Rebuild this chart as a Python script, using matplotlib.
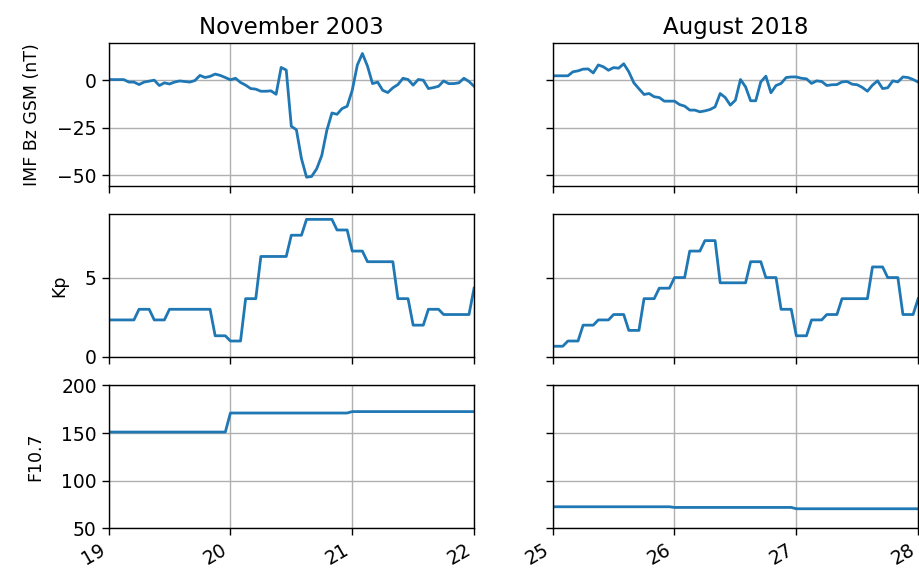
import numpy as np
import pandas as pd
import matplotlib
matplotlib.use("Agg")
import matplotlib.pyplot as plt
import matplotlib.dates as mdates

# Hourly IMF Bz GSM (nT), 73 samples each
bz_nov = [0.35, 0.3, 0.3, 0.3, -1, -1, -2.3, -1, -0.5, 0, -2.8, -1.4, -2, -1,
          -0.4, -0.7, -1, -0.2, 2.5, 1.4, 2, 3.2, 2.5, 1.4, 0.2, 1, -1.2, -2.6,
          -4.4, -4.7, -5.8, -5.8, -5.6, -7.4, 6.7, 5.3, -24.2, -26, -41.2,
          -50.9, -50.5, -46.5, -39.5, -26.3, -17.2, -17.9, -14.9, -13.7, -5.3,
          7.9, 14, 7.4, -1.8, -1, -5.3, -6.5, -4, -2.3, 1, 0.35, -2.6, 0.35, 0,
          -4.4, -3.9, -3.2, -0.4, -1.8, -1.8, -1.4, 1, -0.7, -3.2]
bz_aug = [2.3, 2.3, 2.3, 2.3, 4.4, 4.9, 5.8, 5.9, 3.8, 8, 7, 5.2, 6.6, 6.3, 8.6,
          4.4, -1.4, -4.5, -7.5, -7, -8.7, -9.1, -11, -11, -11, -12.8, -13.6,
          -15.7, -15.7, -16.6, -16.1, -15.4, -14, -7, -9.1, -13.1, -10.5, 0.35,
          -3.5, -10.8, -10.8, -0.9, 2.1, -6.6, -2.8, -1.7, 1.4, 1.7, 1.7, 1,
          0.7, -1.7, -0.35, -0.7, -2.8, -2.4, -2.3, -0.9, -0.7, -2.1, -2.4,
          -3.8, -5.8, -2.6, -0.35, -4.4, -4, -0.35, -0.9, 1.7, 1.4, 0.35, -1]

# 3-hourly Kp
kp_nov = [2.33, 2.33, 3.0, 2.33, 3.0, 3.0, 3.0, 1.33, 1.0, 3.67, 6.33, 6.33,
          7.67, 8.67, 8.67, 8.0, 6.67, 6.0, 6.0, 3.67, 2.0, 3.0, 2.67, 2.67, 4.33]
kp_aug = [0.67, 1.0, 2.0, 2.33, 2.67, 1.67, 3.67, 4.33, 5.0, 6.67, 7.33, 4.67,
          4.67, 6.0, 5.0, 3.0, 1.33, 2.33, 2.67, 3.67, 3.67, 5.67, 5.0, 2.67, 3.67]

# daily F10.7
f107_nov = [151, 171, 172.5, 172.5]
f107_aug = [72.5, 71.8, 70.4, 70.4]

events = [
    ("November 2003", "2003-11-19", bz_nov, kp_nov, f107_nov),
    ("August 2018", "2018-08-25", bz_aug, kp_aug, f107_aug),
]
ylabels = ["IMF Bz GSM (nT)", "Kp", "F10.7"]

fig, axes = plt.subplots(3, 2, figsize=(9.2, 5.71), dpi=100, sharey="row")
fig.subplots_adjust(left=0.118, right=0.998, top=0.925, bottom=0.075,
                    hspace=0.2, wspace=0.215)

for col, (title, start, bz, kp, f107) in enumerate(events):
    t = pd.date_range(start, periods=73, freq="h")
    series = [
        np.asarray(bz),
        np.repeat(kp, 3)[:73],
        np.repeat(f107, 24)[:73],
    ]
    for row in range(3):
        ax = axes[row, col]
        ax.plot(t, series[row], color="#1f77b4", lw=2)
        ax.set_xlim(t[0], t[-1])
        ax.xaxis.set_major_locator(mdates.DayLocator())
        ax.xaxis.set_major_formatter(mdates.DateFormatter("%d"))
        ax.grid(True, color="#b0b0b0", lw=1.0)
        ax.tick_params(labelsize=13.5, width=1.0, length=5)
        for s in ax.spines.values():
            s.set_linewidth(1.0)
        if row < 2:
            ax.tick_params(labelbottom=False)
        else:
            for lbl in ax.get_xticklabels():
                lbl.set_rotation(30)
                lbl.set_ha("right")
        if col == 0:
            ax.set_ylabel(ylabels[row], fontsize=12.5, labelpad=12)
    axes[0, col].set_title(title, fontsize=16.5)

axes[0, 0].set_ylim(-55.3, 19.6)
axes[0, 0].set_yticks([-50, -25, 0])
axes[1, 0].set_ylim(0, 9)
axes[1, 0].set_yticks([0, 5])
axes[2, 0].set_ylim(50, 200)
axes[2, 0].set_yticks([50, 100, 150, 200])

fig.savefig("out.png", dpi=100)
